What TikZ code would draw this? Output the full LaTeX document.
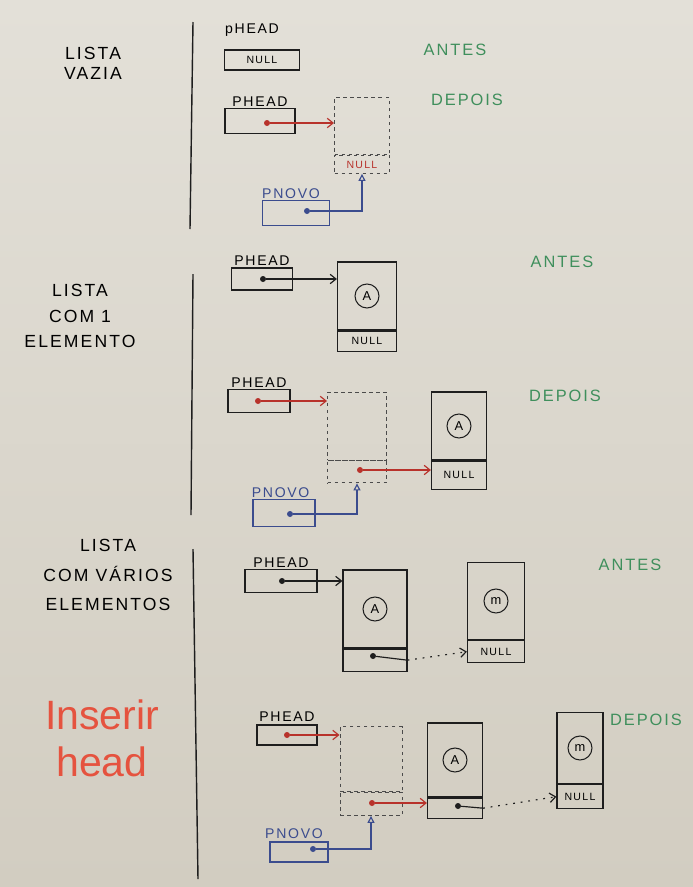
\documentclass[tikz,border=0pt]{standalone}
\usepackage{fontspec}
\setmainfont{Liberation Sans}
\newfontfamily\hand[LetterSpace=12]{Liberation Sans}
\usetikzlibrary{positioning,arrows.meta}
\definecolor{paper}{HTML}{E3E0D8}
\definecolor{paperdark}{HTML}{D2CDC1}
\definecolor{ink}{HTML}{1E1E1E}
\definecolor{redink}{HTML}{B8322B}
\definecolor{blueink}{HTML}{3B4C8E}
\definecolor{greenink}{HTML}{3F8F5C}
\definecolor{title}{HTML}{E5533F}

\tikzset{
	lbl/.style={font=\hand\fontsize{12}{14}\selectfont, inner sep=1pt},
	side/.style={font=\hand\fontsize{15}{17}\selectfont, align=center},
	tag/.style={font=\hand\fontsize{14}{16}\selectfont, text=greenink},
	ptr/.style={draw=ink, line width=1.1pt, inner sep=0pt, font=\hand\fontsize{9}{10}\selectfont},
	cell/.style={draw=ink, line width=1pt, inner sep=0pt, font=\hand\fontsize{9}{10}\selectfont},
	ghost/.style={draw=ink!80, line width=0.8pt, dash pattern=on 3pt off 3pt, inner sep=0pt, font=\hand\fontsize{9}{10}\selectfont},
	val/.style={circle, draw=ink, line width=0.9pt, minimum size=0.72cm, inner sep=0pt, font=\hand\fontsize{11}{12}\selectfont},
	dot/.style={circle, fill, inner sep=0pt, minimum size=0.18cm},
	arr/.style={line width=1pt, -{Straight Barb[length=5pt,width=8pt]}},
	up/.style={line width=1pt, -{Triangle[open,length=6pt,width=6pt]}},
	next/.style={line width=1pt, dash pattern=on 1.5pt off 5pt, -{Straight Barb[length=5pt,width=8pt]}}
}

\begin{document}
\begin{tikzpicture}[x=0.03cm,y=-0.03cm]
	\shade[top color=paper,bottom color=paperdark] (0,0) rectangle (693,887);
	\useasboundingbox (0,0) rectangle (693,887);

	% section dividers
	\draw[ink,line width=1.2pt] (193,22) -- (190,229);
	\draw[ink,line width=1.2pt] (193,274) -- (191,515);
	\draw[ink,line width=1.2pt] (193,549) -- (198,879);

	% left titles
	\node[side] (t1) at (93,63) {LISTA\\VAZIA};
	\node[side,font=\hand\fontsize{15}{22}\selectfont] (t2) at (80,316) {LISTA\\COM 1\\ELEMENTO};
	\node[side,font=\hand\fontsize{15}{25}\selectfont] (t3) at (108,575) {LISTA\\COM VÁRIOS\\ELEMENTOS};
	\node[text=title,font=\fontsize{35}{40}\selectfont,align=center] (ins) at (102,738) {Inserir\\head};

	% lista vazia
	\node[ptr,minimum width=2.25cm,minimum height=0.6cm] (h0) at (262,60) {NULL};
	\node[lbl,above=0.35cm of h0,xshift=-0.3cm] (h0l) {pHEAD};
	\node[tag] (ant1) at (455,50) {ANTES};
	\node[ptr,minimum width=2.1cm,minimum height=0.75cm] (h1) at (260,121) {};
	\node[lbl,above=0pt of h1] (h1l) {PHEAD};
	\node[ghost,minimum width=1.65cm,minimum height=1.71cm] (n1) at (362,126) {};
	\node[ghost,minimum width=1.65cm,minimum height=0.54cm,below=0pt of n1,text=redink] (n1n) {NULL};
	\node[tag] (dep1) at (467,100) {DEPOIS};
	\node[ptr,draw=blueink,minimum width=2.01cm,minimum height=0.75cm] (p1) at (296,213) {};
	\node[lbl,text=blueink,above=0pt of p1,xshift=-0.15cm] (p1l) {PNOVO};
	\node[dot,redink] (d1) at (267,123) {};
	\node[dot,blueink] (q1) at (307,211) {};
	\draw[redink,arr] (d1) -- (d1 -| n1.west);
	\draw[blueink,up] (q1) -| (n1n.south);

	% lista com 1 elemento
	\node[ptr,minimum width=1.83cm,minimum height=0.66cm] (h2) at (262,279) {};
	\node[lbl,above=0pt of h2] (h2l) {PHEAD};
	\node[cell,minimum width=1.77cm,minimum height=2.04cm] (a2) at (367,296) {};
	\node[cell,minimum width=1.77cm,minimum height=0.6cm,below=0pt of a2] (a2n) {NULL};
	\node[val] (a2v) at (a2) {A};
	\node[tag] (ant2) at (562,262) {ANTES};
	\node[dot,ink] (d2) at (263,279) {};
	\draw[ink,arr] (d2) -- (d2 -| a2.west);

	\node[ptr,minimum width=1.86cm,minimum height=0.69cm] (h3) at (259,401) {};
	\node[lbl,above=0pt of h3] (h3l) {PHEAD};
	\node[ghost,minimum width=1.77cm,minimum height=2.04cm] (n2) at (357,426) {};
	\node[ghost,minimum width=1.77cm,minimum height=0.66cm,below=0pt of n2] (n2n) {};
	\node[cell,minimum width=1.65cm,minimum height=2.04cm] (a3) at (459,426) {};
	\node[cell,minimum width=1.65cm,minimum height=0.84cm,below=0pt of a3] (a3n) {NULL};
	\node[val] (a3v) at (a3) {A};
	\node[tag] (dep2) at (565,396) {DEPOIS};
	\node[ptr,draw=blueink,minimum width=1.86cm,minimum height=0.81cm] (p2) at (284,513) {};
	\node[lbl,text=blueink,above=0pt of p2,xshift=-0.1cm] (p2l) {PNOVO};
	\node[dot,redink] (d3) at (258,401) {};
	\node[dot,redink] (e3) at (360,470) {};
	\node[dot,blueink] (q2) at (290,514) {};
	\draw[redink,arr] (d3) -- (d3 -| n2.west);
	\draw[redink,arr] (e3) -- (e3 -| a3n.west);
	\draw[blueink,up] (q2) -| (n2n.south);

	% lista com varios elementos
	\node[ptr,minimum width=2.16cm,minimum height=0.69cm] (h4) at (281,581) {};
	\node[lbl,above=0pt of h4] (h4l) {PHEAD};
	\node[cell,minimum width=1.92cm,minimum height=2.34cm] (a4) at (375,609) {};
	\node[cell,minimum width=1.92cm,minimum height=0.66cm,below=0pt of a4] (a4n) {};
	\node[val] (a4v) at (a4) {A};
	\node[cell,minimum width=1.71cm,minimum height=2.31cm] (m4) at (496,601) {};
	\node[cell,minimum width=1.71cm,minimum height=0.66cm,below=0pt of m4] (m4n) {NULL};
	\node[val] (m4v) at (m4) {m};
	\node[tag] (ant3) at (630,565) {ANTES};
	\node[dot,ink] (d4) at (282,581) {};
	\node[dot,ink] (e4) at (373,656) {};
	\draw[ink,arr] (d4) -- (d4 -| a4.west);
	\draw[ink,line width=1pt] (e4) -- (a4n.east);
	\draw[ink,next] (a4n.east) -- (m4n.west);

	\node[ptr,minimum width=1.8cm,minimum height=0.6cm] (h5) at (287,735) {};
	\node[lbl,above=1pt of h5] (h5l) {PHEAD};
	\node[ghost,minimum width=1.86cm,minimum height=1.95cm] (n3) at (371,759) {};
	\node[ghost,minimum width=1.86cm,minimum height=0.69cm,below=0pt of n3] (n3n) {};
	\node[cell,minimum width=1.65cm,minimum height=2.22cm] (a5) at (455,760) {};
	\node[cell,minimum width=1.65cm,minimum height=0.6cm,below=0pt of a5] (a5n) {};
	\node[val] (a5v) at (a5) {A};
	\node[cell,minimum width=1.38cm,minimum height=2.13cm] (m5) at (580,748) {};
	\node[cell,minimum width=1.38cm,minimum height=0.72cm,below=0pt of m5] (m5n) {NULL};
	\node[val] (m5v) at (m5) {m};
	\node[tag] (dep3) at (646,720) {DEPOIS};
	\node[ptr,draw=blueink,minimum width=1.74cm,minimum height=0.6cm] (p5) at (299,852) {};
	\node[lbl,text=blueink,above=1pt of p5,xshift=-0.15cm] (p5l) {PNOVO};
	\node[dot,redink] (d5) at (287,735) {};
	\node[dot,redink] (e5) at (372,803) {};
	\node[dot,ink] (f5) at (458,806) {};
	\node[dot,blueink] (q5) at (313,849) {};
	\draw[redink,arr] (d5) -- (d5 -| n3.west);
	\draw[redink,arr] (e5) -- (e5 -| a5n.west);
	\draw[ink,line width=1pt] (f5) -- (a5n.east);
	\draw[ink,next] (a5n.east) -- (m5n.west);
	\draw[blueink,up] (q5) -| (n3n.south);
\end{tikzpicture}
\end{document}
